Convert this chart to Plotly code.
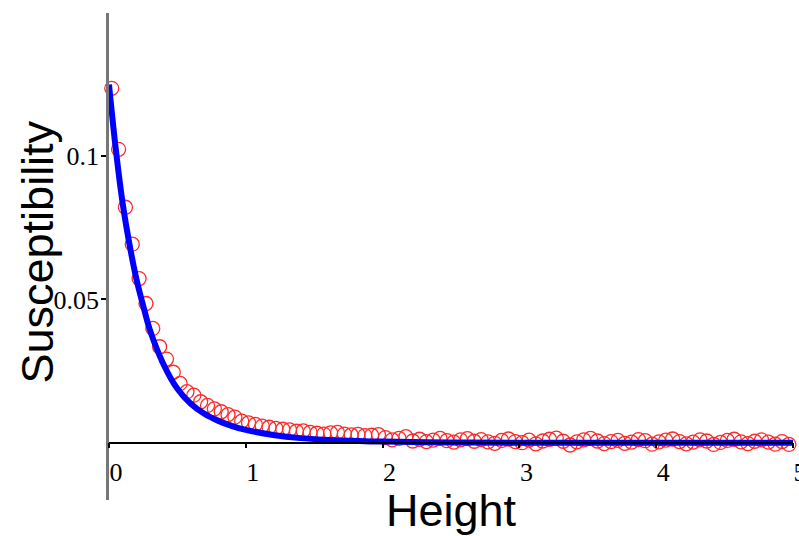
import plotly.graph_objects as go

# Measured data (red circles)
height = [0.02, 0.07, 0.12, 0.17, 0.22, 0.27, 0.32, 0.37, 0.42, 0.47,
          0.52, 0.57, 0.62, 0.67, 0.72, 0.77, 0.82, 0.87, 0.92, 0.97,
          1.02, 1.07, 1.12, 1.17, 1.22, 1.27, 1.32, 1.37, 1.42, 1.47,
          1.52, 1.57, 1.62, 1.67, 1.72, 1.77, 1.82, 1.87, 1.92, 1.97,
          2.02, 2.07, 2.12, 2.17, 2.22, 2.27, 2.32, 2.37, 2.42, 2.47,
          2.52, 2.57, 2.62, 2.67, 2.72, 2.77, 2.82, 2.87, 2.92, 2.97,
          3.02, 3.07, 3.12, 3.17, 3.22, 3.27, 3.32, 3.37, 3.42, 3.47,
          3.52, 3.57, 3.62, 3.67, 3.72, 3.77, 3.82, 3.87, 3.92, 3.97,
          4.02, 4.07, 4.12, 4.17, 4.22, 4.27, 4.32, 4.37, 4.42, 4.47,
          4.52, 4.57, 4.62, 4.67, 4.72, 4.77, 4.82, 4.87, 4.92, 4.97]
susceptibility = [0.1237, 0.1024, 0.0822, 0.0693, 0.0573, 0.0486, 0.0399, 0.0335, 0.0292, 0.0246,
                  0.0207, 0.0178, 0.0166, 0.0143, 0.0130, 0.0118, 0.0108, 0.0098, 0.0089, 0.0075,
                  0.0069, 0.0064, 0.0058, 0.0054, 0.0050, 0.0047, 0.0045, 0.0040, 0.0041, 0.0036,
                  0.0033, 0.0030, 0.0034, 0.0036, 0.0030, 0.0027, 0.0029, 0.0025, 0.0026, 0.0028,
                  0.0018, 0.0010, 0.0015, 0.0021, 0.0006, 0.0012, 0.0004, 0.0009, 0.0015, 0.0007,
                  0.0002, 0.0010, 0.0014, 0.0005, 0.0011, 0.0003, -0.0002, 0.0008, 0.0013, 0.0004,
                  0.0000, 0.0009, -0.0004, 0.0006, 0.0012, 0.0016, 0.0005, -0.0008, 0.0003, 0.0010,
                  0.0015, 0.0006, -0.0003, 0.0004, 0.0008, -0.0002, 0.0002, 0.0011, 0.0007, -0.0005,
                  0.0003, 0.0009, 0.0013, 0.0004, -0.0004, 0.0002, 0.0010, 0.0006, -0.0006, 0.0001,
                  0.0008, 0.0012, 0.0003, -0.0003, 0.0005, 0.0010, 0.0002, -0.0005, 0.0004, -0.0006]

# Fitted curve (blue line)
fit_height = [0, 0.05, 0.1, 0.15, 0.2, 0.25, 0.3, 0.4, 0.5, 0.6, 0.7, 0.8, 0.9, 1.0,
              1.2, 1.4, 1.7, 2.0, 2.5, 3.0, 4.0, 5.0]
fit_value = [0.1250, 0.1023, 0.0835, 0.0692, 0.0572, 0.0478, 0.0392, 0.0272, 0.0188, 0.0135,
             0.0100, 0.0076, 0.0058, 0.0045, 0.0027, 0.0016, 0.0008, 0.0004, 0.0001, 0.0, 0.0, 0.0]

x_ticks = [0, 1, 2, 3, 4, 5]
x_ticklabels = ["0", "1", "2", "3", "4", "5"]
y_ticks = [0.05, 0.1]
y_ticklabels = ["0.05", "0.1"]

x_range = [0, 5]
y_range = [-0.02, 0.15]

fig = go.Figure()
fig.add_trace(go.Scatter(
    x=height, y=susceptibility, mode="markers",
    marker=dict(symbol="circle-open", size=14, color="#ff2a2a", line=dict(width=1.3, color="#ff2a2a")),
    showlegend=False, cliponaxis=False))
fig.add_trace(go.Scatter(
    x=fit_height, y=fit_value, mode="lines", line=dict(color="#0000ff", width=6, shape="spline"),
    showlegend=False))

tick_font = dict(family="Liberation Serif", size=26, color="black")
zero_frac = (0 - y_range[0]) / (y_range[1] - y_range[0])

fig.update_layout(
    width=799, height=536,
    margin=dict(l=109, r=6, t=13, b=36, autoexpand=False),
    paper_bgcolor="white", plot_bgcolor="white",
    xaxis=dict(range=x_range, tickvals=x_ticks, ticktext=x_ticklabels, showgrid=False, zeroline=False,
               showline=True, linecolor="black", linewidth=1.5, ticks="outside", ticklen=5,
               tickcolor="black", tickwidth=1.5, tickfont=tick_font, anchor="free", position=zero_frac,
               ticklabelshift=7, ticklabelstandoff=1, ticklabeloverflow="allow", automargin=False),
    yaxis=dict(range=y_range, tickvals=y_ticks, ticktext=y_ticklabels, showgrid=False, zeroline=False,
               showline=True, linecolor="#777777", linewidth=2.5, ticks="outside", ticklen=5,
               tickcolor="black", tickwidth=1.5, tickfont=tick_font, automargin=False,
               ticklabelstandoff=-3),
    annotations=[
        dict(text="Height", xref="paper", yref="paper", x=0.501, y=-0.022, xanchor="center",
             yanchor="middle", showarrow=False, font=dict(family="Liberation Sans", size=45, color="black")),
        dict(text="Susceptibility", xref="paper", yref="paper", x=-0.104, y=0.51, xanchor="center",
             yanchor="middle", textangle=-90, showarrow=False,
             font=dict(family="Liberation Sans", size=45, color="black")),
    ],
)

fig.write_html("out.html")
